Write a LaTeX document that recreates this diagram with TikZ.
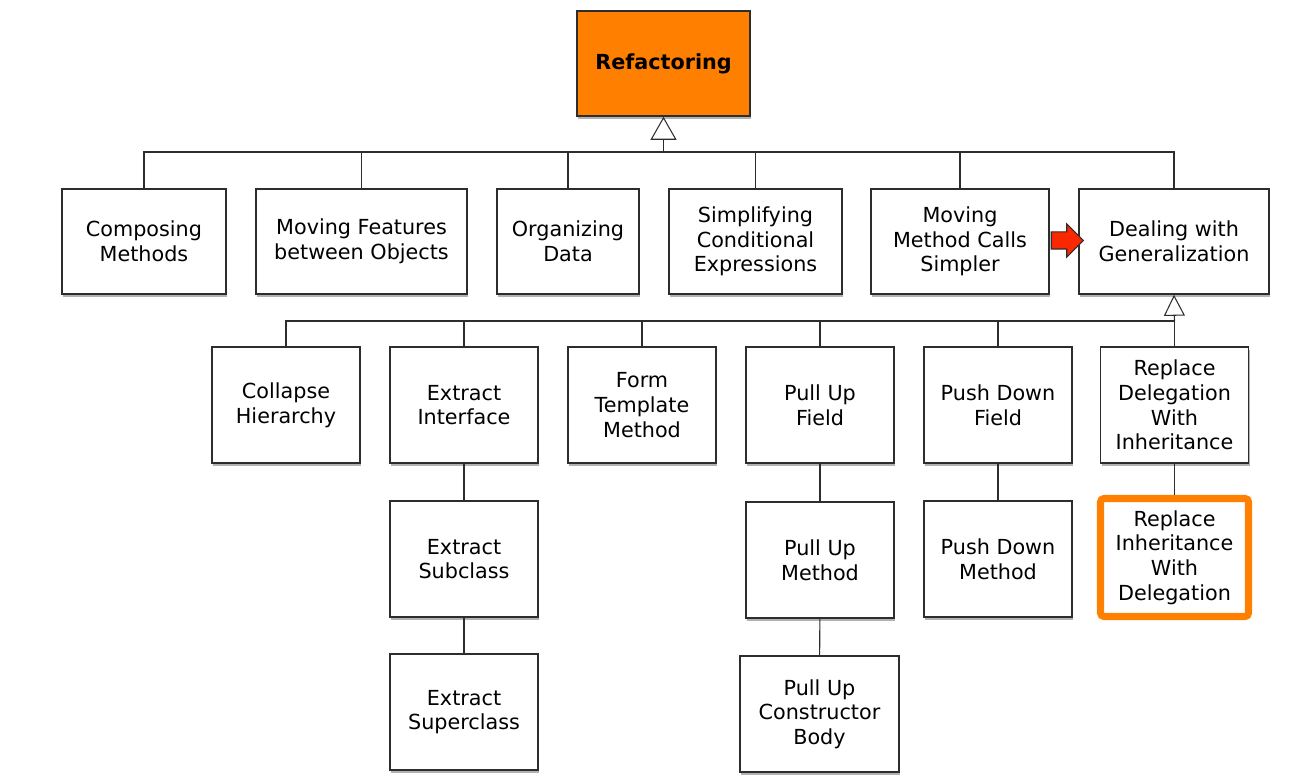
\documentclass[tikz,border=0pt]{standalone}
\usepackage{fontspec}
\setmainfont{DejaVu Sans}
\usetikzlibrary{arrows.meta,shapes.arrows,shadows}

\definecolor{refOrange}{RGB}{255,128,0}
\definecolor{refRed}{RGB}{250,40,0}
\definecolor{boxLine}{RGB}{45,45,45}

\tikzset{
  catbox/.style={draw=boxLine, line width=0.9pt, fill=white, align=center, inner sep=0pt,
    font=\fontsize{11.8}{14}\selectfont,
    drop shadow={shadow xshift=0.8pt, shadow yshift=-1.8pt, opacity=0.3, fill=black}},
  boxw/.style={minimum width=#1*0.02cm},
  boxh/.style={minimum height=#1*0.02cm},
  wire/.style={draw=boxLine, line width=0.6pt},
  gentip/.style 2 args={-{Triangle[fill=white, length=#1*0.02cm, width=#2*0.02cm]}}
}

\begin{document}
\begin{tikzpicture}[x=0.02cm, y=-0.02cm]
    \useasboundingbox (0,0) rectangle (1316,783);

    \node[catbox, boxw=173, boxh=105, fill=refOrange, font=\fontsize{11.8}{14}\selectfont\bfseries] (refac) at (663.5,63.5) {Refactoring};

    % categories
    \foreach \name/\x/\w/\txt in {comp/144/164/{Composing\\Methods},
        movf/361.5/211/{Moving Features\\between Objects},
        org/568/142/{Organizing\\Data},
        simp/755.5/173/{Simplifying\\Conditional\\Expressions},
        movm/960/178/{Moving\\Method Calls\\Simpler},
        gen/1174/190/{Dealing with\\Generalization}}{
      \node[catbox, boxw=\w, boxh=105] (\name) at (\x,241.5) {\txt};
    }
    \node[single arrow, draw=boxLine, fill=refRed, line width=0.6pt, inner sep=0pt,
      inner ysep=8*0.02cm, minimum height=32*0.02cm,
      single arrow head extend=8*0.02cm] (hint) at (1063,240.5) {};

    % generalization refactorings
    \foreach \name/\x/\txt in {coll/286/{Collapse\\Hierarchy},
        exti/464/{Extract\\Interface},
        form/642/{Form\\Template\\Method},
        puf/820/{Pull Up\\Field},
        pdf/998/{Push Down\\Field},
        rdi/1174.5/{Replace\\Delegation\\With\\Inheritance}}{
      \node[catbox, boxw=148, boxh=116] (\name) at (\x,405) {\txt};
    }
    \node[catbox, boxw=148, boxh=116] (exts) at (464,559) {Extract\\Subclass};
    \node[catbox, boxw=148, boxh=116] (pum) at (820,560) {Pull Up\\Method};
    \node[catbox, boxw=148, boxh=116] (pdm) at (998,559) {Push Down\\Method};
    \node[catbox, boxw=148, boxh=118, draw=refOrange, line width=4pt, rounded corners=2pt] (rid) at (1174.5,557.5) {Replace\\Inheritance\\With\\Delegation};
    \node[catbox, boxw=148, boxh=116] (exsu) at (464,712) {Extract\\Superclass};
    \node[catbox, boxw=159, boxh=116] (pucb) at (819.5,714) {Pull Up\\Constructor\\Body};

    % connectors
    \coordinate (bus1) at (663.5,152);
    \draw[wire, gentip={23}{26}] (bus1) -- (refac.south);
    \foreach \name in {comp,movf,org,simp,movm,gen}
      \draw[wire] (\name.north) |- (bus1);

    \coordinate (bus2) at (1174.5,321);
    \draw[wire, gentip={21}{21}] (bus2) -- (gen.south);
    \foreach \name in {coll,exti,form,puf,pdf,rdi}
      \draw[wire] (\name.north) |- (bus2);

    \draw[wire] (exti) -- (exts);
    \draw[wire] (exts) -- (exsu);
    \draw[wire] (puf) -- (pum);
    \draw[wire] (pum) -- (pucb);
    \draw[wire] (pdf) -- (pdm);
    \draw[wire] (rdi) -- (rid);
\end{tikzpicture}
\end{document}
